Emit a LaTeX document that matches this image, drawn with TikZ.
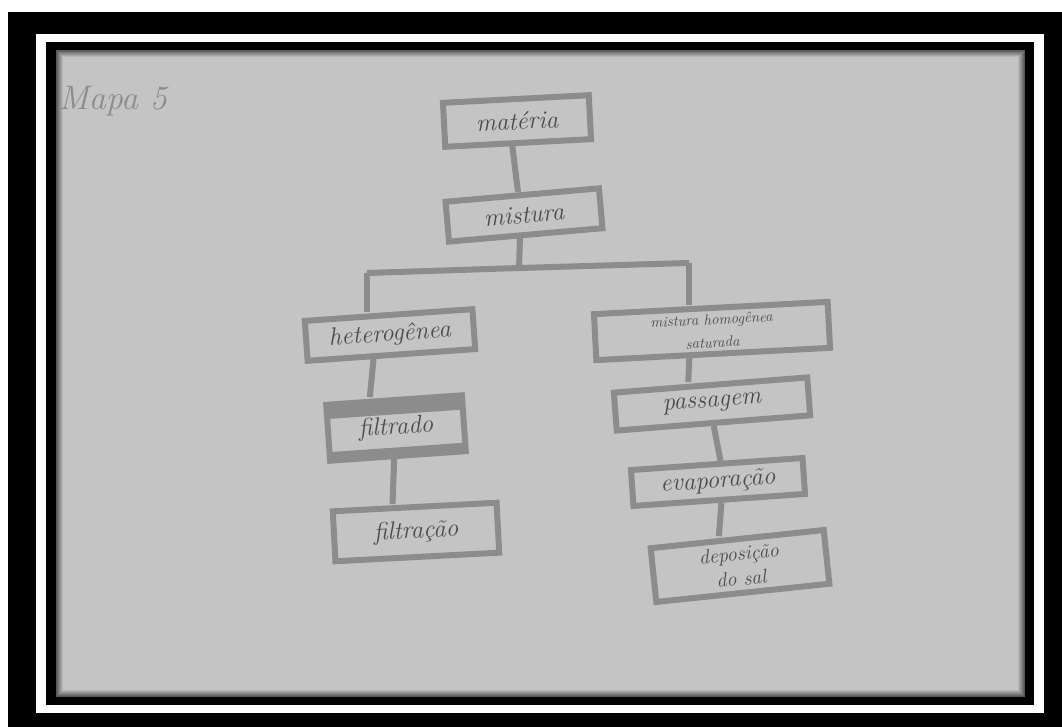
\documentclass[tikz,border=0pt]{standalone}
\usepackage{tikz}
\definecolor{paper}{HTML}{C4C4C4}
\definecolor{pencil}{HTML}{8C8C8C}
\definecolor{ink}{HTML}{4A4A4A}
\begin{document}
\begin{tikzpicture}[x=1pt,y=-1pt,
  concept/.style={draw=pencil,line width=6pt,fill=paper,text=ink,align=center,
    inner sep=0pt,font=\itshape\fontsize{25}{20}\selectfont},
  link/.style={draw=pencil,line width=6pt}]
\useasboundingbox (0,0) rectangle (1062,727);
%Frame
\fill[white] (0,0) rectangle (1062,727);
\fill[black] (8,12) rectangle (1062,727);
\fill[white] (36,34) rectangle (1044,713);
\fill[black] (46,42) rectangle (1034,705);
\fill[paper] (56,50) rectangle (1025,697);
\foreach \i in {0,...,6}
  \draw[black,opacity={0.55-0.08*\i},line width=1pt] ({56.5+\i},{50.5+\i}) rectangle ({1024.5-\i},{696.5-\i});
%Title
\node at (113,101) [text=pencil,font=\itshape\fontsize{34}{34}\selectfont] (Title) {Mapa 5};
%Node Coordinates
\node at (517,121) [concept,rotate=3,minimum width=146,minimum height=44] (Materia) {mat\'eria};
\node at (524,215) [concept,rotate=5,minimum width=154,minimum height=40] (Mistura) {mistura};
\node at (390,335) [concept,rotate=4,minimum width=168,minimum height=40] (Heterogenea) {heterog\^enea};
\node at (396,428) [concept,rotate=4,minimum width=136,minimum height=56,
  path picture={
    \fill[pencil] (path picture bounding box.north west) rectangle ([yshift=-14pt]path picture bounding box.north east);
    \fill[pencil] (path picture bounding box.south west) rectangle ([yshift=18pt]path picture bounding box.south east);}] (Filtrado) {filtrado};
\node at (416,532) [concept,rotate=3,minimum width=164,minimum height=50] (Filtracao) {filtra\c{c}\~ao};
\node at (712,331) [concept,rotate=3,minimum width=234,minimum height=46,
  font=\itshape\fontsize{15}{23}\selectfont] (Homogenea) {mistura homog\^enea\\saturada};
\node at (712,404) [concept,rotate=4.5,minimum width=194,minimum height=38] (Passagem) {passagem};
\node at (718,482) [concept,rotate=4,minimum width=172,minimum height=36] (Evaporacao) {evapora\c{c}\~ao};
\node at (740,566) [concept,rotate=6,minimum width=174,minimum height=54,
  font=\itshape\fontsize{20}{25}\selectfont] (Deposicao) {deposi\c{c}\~ao\\do sal};
%Fork
\coordinate (ForkL) at (367,273);
\coordinate (ForkM) at (519,268);
\coordinate (ForkR) at (689,263);
%Connections
\draw[link] ([xshift=-6pt]Materia.south) -- ([xshift=-4pt]Mistura.north);
\draw[link] ([xshift=-6pt]Mistura.south) -- (ForkM);
\draw[link] (ForkL) -- (ForkM) -- (ForkR);
\draw[link] (ForkL) -- (ForkL |- Heterogenea.north);
\draw[link] (ForkR) -- (ForkR |- Homogenea.north);
\draw[link] ([xshift=-18pt]Heterogenea.south) -- ([xshift=-24pt]Filtrado.north);
\draw[link] ([xshift=-4pt]Filtrado.south) -- ([xshift=-22pt]Filtracao.north);
\draw[link] ([xshift=-24pt]Homogenea.south) -- ([xshift=-22pt]Passagem.north);
\draw[link] ([xshift=0pt]Passagem.south) -- ([xshift=4pt]Evaporacao.north);
\draw[link] ([xshift=2pt]Evaporacao.south) -- ([xshift=-18pt]Deposicao.north);
\end{tikzpicture}
\end{document}
